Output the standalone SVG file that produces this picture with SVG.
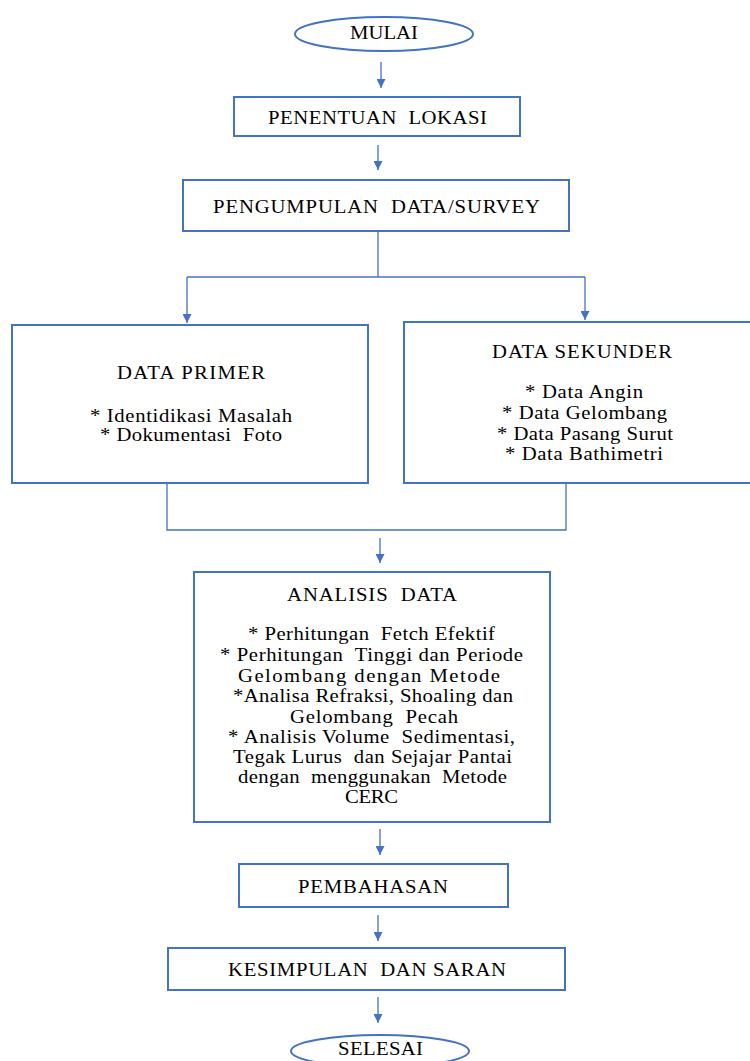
<svg xmlns="http://www.w3.org/2000/svg" width="750" height="1061" viewBox="0 0 750 1061">
<style>
.n{fill:#fff;stroke:#4472C4;stroke-width:2}
.c{fill:none;stroke:#4472C4;stroke-width:1.3}
.t{font-family:"Liberation Serif","Times New Roman",serif;font-size:18px;fill:#000;text-anchor:middle;white-space:pre}
</style>
<defs>
<marker id="a" viewBox="0 0 10 10" refX="10" refY="5" markerWidth="9" markerHeight="9" markerUnits="userSpaceOnUse" orient="auto">
<path d="M0,0 L10,5 L0,10 z" fill="#4472C4"/>
</marker>
</defs>
<rect width="750" height="1061" fill="#fff"/>
<g id="connectors">
<line class="c" x1="381" y1="62" x2="381" y2="88" marker-end="url(#a)"/>
<line class="c" x1="378" y1="145" x2="378" y2="170" marker-end="url(#a)"/>
<polyline class="c" points="378,231 378,277"/>
<polyline class="c" points="187,277 585,277"/>
<line class="c" x1="187" y1="277" x2="187" y2="323" marker-end="url(#a)"/>
<line class="c" x1="585" y1="277" x2="585" y2="320" marker-end="url(#a)"/>
<polyline class="c" points="167,484 167,530 566,530 566,484"/>
<line class="c" x1="380" y1="538" x2="380" y2="563" marker-end="url(#a)"/>
<line class="c" x1="380" y1="829" x2="380" y2="855" marker-end="url(#a)"/>
<line class="c" x1="378" y1="915" x2="378" y2="941" marker-end="url(#a)"/>
<line class="c" x1="378" y1="997" x2="378" y2="1023" marker-end="url(#a)"/>
</g>
<g id="mulai">
<ellipse class="n" cx="384" cy="34" rx="89" ry="17"/>
<text class="t" transform="matrix(1.15 0 0 1 384 39)" textLength="59.1" lengthAdjust="spacing">MULAI</text>
</g>
<g id="penentuan">
<rect class="n" x="234" y="97" width="286" height="39"/>
<text class="t" transform="matrix(1.15 0 0 1 377.5 124)" textLength="190.4" lengthAdjust="spacing">PENENTUAN  LOKASI</text>
</g>
<g id="pengumpulan">
<rect class="n" x="183" y="180" width="386" height="51"/>
<text class="t" transform="matrix(1.15 0 0 1 376.5 213)" textLength="284.3" lengthAdjust="spacing">PENGUMPULAN  DATA/SURVEY</text>
</g>
<g id="primer">
<rect class="n" x="12" y="325" width="356" height="158"/>
<text class="t" transform="matrix(1.15 0 0 1 191 379)" textLength="128.7" lengthAdjust="spacing">DATA PRIMER</text>
<text class="t" transform="matrix(1.15 0 0 1 191 422)" textLength="175.7" lengthAdjust="spacing">* Identidikasi Masalah</text>
<text class="t" transform="matrix(1.15 0 0 1 191 441)" textLength="158.3" lengthAdjust="spacing">* Dokumentasi  Foto</text>
</g>
<g id="sekunder">
<rect class="n" x="404" y="322" width="350" height="161"/>
<text class="t" transform="matrix(1.15 0 0 1 582 358)" textLength="156.5" lengthAdjust="spacing">DATA SEKUNDER</text>
<text class="t" transform="matrix(1.15 0 0 1 584 398)" textLength="102.6" lengthAdjust="spacing">* Data Angin</text>
<text class="t" transform="matrix(1.15 0 0 1 584.5 419)" textLength="143.5" lengthAdjust="spacing">* Data Gelombang</text>
<text class="t" transform="matrix(1.15 0 0 1 585 440)" textLength="153" lengthAdjust="spacing">* Data Pasang Surut</text>
<text class="t" transform="matrix(1.15 0 0 1 584 460)" textLength="137.4" lengthAdjust="spacing">* Data Bathimetri</text>
</g>
<g id="analisis">
<rect class="n" x="194" y="572" width="356" height="250"/>
<text class="t" transform="matrix(1.15 0 0 1 372 601)" textLength="147.8" lengthAdjust="spacing">ANALISIS  DATA</text>
<text class="t" transform="matrix(1.15 0 0 1 371.5 640)" textLength="214.8" lengthAdjust="spacing">* Perhitungan  Fetch Efektif</text>
<text class="t" transform="matrix(1.15 0 0 1 371.5 661)" textLength="263.5" lengthAdjust="spacing">* Perhitungan  Tinggi dan Periode</text>
<text class="t" transform="matrix(1.15 0 0 1 369 682)" textLength="227.8" lengthAdjust="spacing">Gelombang dengan Metode</text>
<text class="t" transform="matrix(1.15 0 0 1 373 702)" textLength="243.5" lengthAdjust="spacing">*Analisa Refraksi, Shoaling dan</text>
<text class="t" transform="matrix(1.15 0 0 1 374 723)" textLength="146.1" lengthAdjust="spacing">Gelombang  Pecah</text>
<text class="t" transform="matrix(1.15 0 0 1 371.5 743)" textLength="249.6" lengthAdjust="spacing">* Analisis Volume  Sedimentasi,</text>
<text class="t" transform="matrix(1.15 0 0 1 372.5 763)" textLength="242.6" lengthAdjust="spacing">Tegak Lurus  dan Sejajar Pantai</text>
<text class="t" transform="matrix(1.15 0 0 1 372.5 783)" textLength="233.9" lengthAdjust="spacing">dengan  menggunakan  Metode</text>
<text class="t" transform="matrix(1.15 0 0 1 371.5 803)" textLength="46.1" lengthAdjust="spacing">CERC</text>
</g>
<g id="pembahasan">
<rect class="n" x="239" y="864" width="269" height="43"/>
<text class="t" transform="matrix(1.15 0 0 1 373 893)" textLength="130.4" lengthAdjust="spacing">PEMBAHASAN</text>
</g>
<g id="kesimpulan">
<rect class="n" x="168" y="948" width="397" height="42"/>
<text class="t" transform="matrix(1.15 0 0 1 367 976)" textLength="241.7" lengthAdjust="spacing">KESIMPULAN  DAN SARAN</text>
</g>
<g id="selesai">
<ellipse class="n" cx="380" cy="1051" rx="89" ry="16"/>
<text class="t" transform="matrix(1.15 0 0 1 380.5 1055)" textLength="73.9" lengthAdjust="spacing">SELESAI</text>
</g>
</svg>
